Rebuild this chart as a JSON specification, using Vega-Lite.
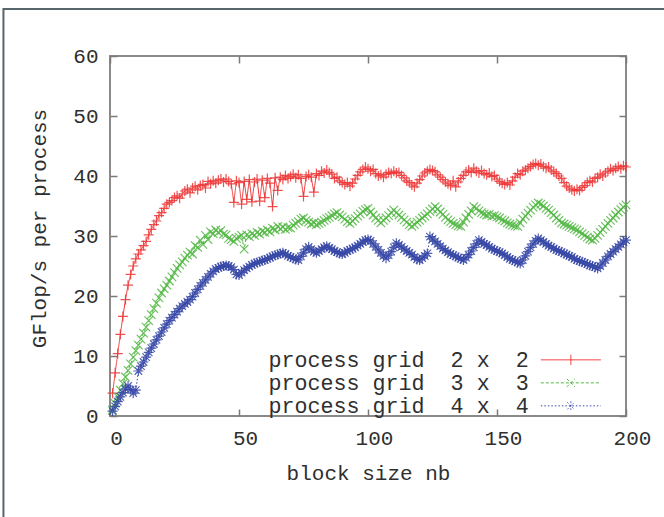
{
  "$schema": "https://vega.github.io/schema/vega-lite/v6.json",
  "width": 516,
  "height": 360,
  "autosize": {"type": "none"},
  "padding": {"left": 110, "top": 56, "right": 38, "bottom": 101},
  "background": "white",
  "datasets": {
    "perf": [
      {"nb":1,"p2":3.8,"p3":1.0,"p4":0.8},{"nb":2,"p2":7.2,"p3":2.1,"p4":1.6},{"nb":3,"p2":10.4,"p3":3.2,"p4":2.4},{"nb":4,"p2":13.6,"p3":4.3,"p4":3.2},{"nb":5,"p2":16.6,"p3":5.4,"p4":3.9},
      {"nb":6,"p2":19.4,"p3":6.5,"p4":4.5},{"nb":7,"p2":21.8,"p3":7.6,"p4":5.0},{"nb":8,"p2":23.6,"p3":8.7,"p4":4.4},{"nb":9,"p2":25.0,"p3":9.8,"p4":3.8},{"nb":10,"p2":26.2,"p3":10.9,"p4":4.3},
      {"nb":11,"p2":27.0,"p3":11.8,"p4":7.5},{"nb":12,"p2":27.7,"p3":12.8,"p4":8.3},{"nb":13,"p2":28.4,"p3":13.8,"p4":9.0},{"nb":14,"p2":29.1,"p3":14.8,"p4":9.8},{"nb":15,"p2":30.2,"p3":15.9,"p4":10.6},
      {"nb":16,"p2":31.1,"p3":16.9,"p4":11.3},{"nb":17,"p2":31.9,"p3":17.9,"p4":12.0},{"nb":18,"p2":32.5,"p3":18.8,"p4":12.7},{"nb":19,"p2":33.4,"p3":19.7,"p4":13.3},{"nb":20,"p2":33.9,"p3":20.5,"p4":14.0},
      {"nb":21,"p2":34.6,"p3":21.2,"p4":14.7},{"nb":22,"p2":35.3,"p3":21.8,"p4":15.3},{"nb":23,"p2":35.6,"p3":22.5,"p4":15.9},{"nb":24,"p2":35.9,"p3":23.2,"p4":16.4},{"nb":25,"p2":36.4,"p3":23.9,"p4":16.9},
      {"nb":26,"p2":36.7,"p3":24.6,"p4":17.4},{"nb":27,"p2":36.3,"p3":25.2,"p4":17.9},{"nb":28,"p2":37.0,"p3":25.7,"p4":18.3},{"nb":29,"p2":37.5,"p3":26.3,"p4":18.7},{"nb":30,"p2":37.8,"p3":26.8,"p4":19.0},
      {"nb":31,"p2":37.2,"p3":27.3,"p4":19.4},{"nb":32,"p2":38.0,"p3":27.0,"p4":19.9},{"nb":33,"p2":38.3,"p3":28.4,"p4":20.5},{"nb":34,"p2":37.7,"p3":28.1,"p4":21.1},{"nb":35,"p2":38.4,"p3":29.3,"p4":21.7},
      {"nb":36,"p2":38.6,"p3":28.6,"p4":22.2},{"nb":37,"p2":38.0,"p3":30.1,"p4":22.7},{"nb":38,"p2":39.1,"p3":29.4,"p4":23.2},{"nb":39,"p2":38.7,"p3":30.7,"p4":23.7},{"nb":40,"p2":39.2,"p3":30.4,"p4":24.1},
      {"nb":41,"p2":38.8,"p3":31.0,"p4":24.5},{"nb":42,"p2":39.3,"p3":30.6,"p4":24.7},{"nb":43,"p2":39.5,"p3":30.9,"p4":24.9},{"nb":44,"p2":39.0,"p3":30.3,"p4":25.0},{"nb":45,"p2":39.5,"p3":30.2,"p4":25.1},
      {"nb":46,"p2":39.1,"p3":29.6,"p4":25.0},{"nb":47,"p2":38.7,"p3":29.4,"p4":24.8},{"nb":48,"p2":35.6,"p3":29.1,"p4":24.4},{"nb":49,"p2":39.2,"p3":29.6,"p4":23.6},{"nb":50,"p2":38.9,"p3":29.8,"p4":23.5},
      {"nb":51,"p2":35.3,"p3":30.1,"p4":23.9},{"nb":52,"p2":39.1,"p3":27.8,"p4":24.3},{"nb":53,"p2":36.1,"p3":30.2,"p4":24.6},{"nb":54,"p2":39.4,"p3":29.9,"p4":24.9},{"nb":55,"p2":35.7,"p3":30.4,"p4":25.2},
      {"nb":56,"p2":39.0,"p3":30.1,"p4":25.4},{"nb":57,"p2":39.5,"p3":30.6,"p4":25.6},{"nb":58,"p2":35.8,"p3":30.3,"p4":25.7},{"nb":59,"p2":39.3,"p3":30.8,"p4":25.9},{"nb":60,"p2":36.4,"p3":30.6,"p4":26.0},
      {"nb":61,"p2":39.6,"p3":31.0,"p4":26.2},{"nb":62,"p2":38.8,"p3":30.7,"p4":26.4},{"nb":63,"p2":34.9,"p3":31.3,"p4":26.6},{"nb":64,"p2":39.7,"p3":31.0,"p4":26.8},{"nb":65,"p2":37.6,"p3":31.6,"p4":26.9},
      {"nb":66,"p2":39.8,"p3":31.2,"p4":27.1},{"nb":67,"p2":39.4,"p3":31.5,"p4":27.2},{"nb":68,"p2":40.1,"p3":31.1,"p4":27.0},{"nb":69,"p2":39.6,"p3":31.4,"p4":26.7},{"nb":70,"p2":39.9,"p3":31.3,"p4":26.5},
      {"nb":71,"p2":40.3,"p3":31.8,"p4":26.3},{"nb":72,"p2":39.7,"p3":32.1,"p4":26.1},{"nb":73,"p2":40.2,"p3":32.4,"p4":26.0},{"nb":74,"p2":39.6,"p3":32.8,"p4":26.6},{"nb":75,"p2":36.6,"p3":33.0,"p4":27.2},
      {"nb":76,"p2":39.9,"p3":32.6,"p4":27.8},{"nb":77,"p2":40.2,"p3":32.3,"p4":28.2},{"nb":78,"p2":39.8,"p3":32.0,"p4":27.8},{"nb":79,"p2":37.3,"p3":32.2,"p4":27.4},{"nb":80,"p2":40.4,"p3":31.9,"p4":27.2},
      {"nb":81,"p2":40.1,"p3":32.1,"p4":27.5},{"nb":82,"p2":40.8,"p3":32.3,"p4":27.8},{"nb":83,"p2":40.5,"p3":32.6,"p4":28.1},{"nb":84,"p2":41.0,"p3":32.9,"p4":28.3},{"nb":85,"p2":40.6,"p3":33.1,"p4":28.0},
      {"nb":86,"p2":40.3,"p3":33.4,"p4":27.8},{"nb":87,"p2":39.6,"p3":33.7,"p4":27.5},{"nb":88,"p2":39.8,"p3":33.9,"p4":27.3},{"nb":89,"p2":39.2,"p3":33.5,"p4":27.1},{"nb":90,"p2":38.9,"p3":33.2,"p4":27.0},
      {"nb":91,"p2":38.6,"p3":32.8,"p4":27.2},{"nb":92,"p2":38.9,"p3":32.4,"p4":27.5},{"nb":93,"p2":38.3,"p3":32.1,"p4":27.7},{"nb":94,"p2":38.8,"p3":32.5,"p4":27.9},{"nb":95,"p2":39.5,"p3":32.9,"p4":28.1},
      {"nb":96,"p2":40.1,"p3":33.3,"p4":28.4},{"nb":97,"p2":40.7,"p3":33.7,"p4":28.7},{"nb":98,"p2":41.1,"p3":34.1,"p4":29.0},{"nb":99,"p2":41.5,"p3":34.4,"p4":29.3},{"nb":100,"p2":41.2,"p3":34.6,"p4":29.4},
      {"nb":101,"p2":40.8,"p3":34.0,"p4":29.2},{"nb":102,"p2":41.1,"p3":33.5,"p4":28.7},{"nb":103,"p2":40.4,"p3":33.0,"p4":28.2},{"nb":104,"p2":40.0,"p3":32.6,"p4":27.7},{"nb":105,"p2":40.2,"p3":32.2,"p4":27.2},
      {"nb":106,"p2":39.8,"p3":32.6,"p4":26.7},{"nb":107,"p2":40.3,"p3":33.0,"p4":26.3},{"nb":108,"p2":40.6,"p3":33.4,"p4":26.8},{"nb":109,"p2":40.4,"p3":33.9,"p4":27.4},{"nb":110,"p2":40.8,"p3":34.3,"p4":28.1},
      {"nb":111,"p2":40.5,"p3":33.9,"p4":28.8},{"nb":112,"p2":40.6,"p3":33.5,"p4":28.5},{"nb":113,"p2":40.1,"p3":33.1,"p4":28.2},{"nb":114,"p2":39.7,"p3":32.7,"p4":27.8},{"nb":115,"p2":39.2,"p3":32.3,"p4":27.5},
      {"nb":116,"p2":38.9,"p3":31.9,"p4":27.2},{"nb":117,"p2":38.5,"p3":31.6,"p4":26.9},{"nb":118,"p2":38.2,"p3":31.9,"p4":26.5},{"nb":119,"p2":38.8,"p3":32.3,"p4":26.1},{"nb":120,"p2":39.4,"p3":32.6,"p4":26.0},
      {"nb":121,"p2":40.0,"p3":33.0,"p4":26.3},{"nb":122,"p2":40.5,"p3":33.3,"p4":26.7},{"nb":123,"p2":40.8,"p3":33.7,"p4":27.1},{"nb":124,"p2":41.1,"p3":34.1,"p4":29.9},{"nb":125,"p2":40.9,"p3":34.5,"p4":29.5},
      {"nb":126,"p2":40.7,"p3":34.9,"p4":29.1},{"nb":127,"p2":40.2,"p3":34.5,"p4":28.7},{"nb":128,"p2":39.8,"p3":34.0,"p4":28.3},{"nb":129,"p2":39.4,"p3":33.6,"p4":27.9},{"nb":130,"p2":39.0,"p3":33.1,"p4":27.6},
      {"nb":131,"p2":38.7,"p3":32.7,"p4":27.3},{"nb":132,"p2":38.4,"p3":32.4,"p4":27.0},{"nb":133,"p2":39.2,"p3":32.1,"p4":26.8},{"nb":134,"p2":38.2,"p3":31.9,"p4":26.6},{"nb":135,"p2":39.0,"p3":31.7,"p4":26.4},
      {"nb":136,"p2":39.6,"p3":31.6,"p4":26.2},{"nb":137,"p2":40.1,"p3":32.3,"p4":26.0},{"nb":138,"p2":40.7,"p3":33.0,"p4":26.4},{"nb":139,"p2":41.0,"p3":33.6,"p4":26.9},{"nb":140,"p2":40.6,"p3":34.2,"p4":27.5},
      {"nb":141,"p2":41.3,"p3":34.9,"p4":28.1},{"nb":142,"p2":40.8,"p3":34.6,"p4":28.7},{"nb":143,"p2":40.5,"p3":34.2,"p4":29.3},{"nb":144,"p2":40.9,"p3":33.9,"p4":29.0},{"nb":145,"p2":40.4,"p3":33.7,"p4":28.7},
      {"nb":146,"p2":40.2,"p3":33.5,"p4":28.5},{"nb":147,"p2":40.5,"p3":33.6,"p4":28.2},{"nb":148,"p2":39.9,"p3":33.3,"p4":27.9},{"nb":149,"p2":40.1,"p3":33.4,"p4":27.7},{"nb":150,"p2":39.5,"p3":33.2,"p4":27.5},
      {"nb":151,"p2":39.1,"p3":33.0,"p4":27.3},{"nb":152,"p2":38.8,"p3":32.7,"p4":27.1},{"nb":153,"p2":38.6,"p3":32.5,"p4":26.8},{"nb":154,"p2":38.9,"p3":32.2,"p4":26.5},{"nb":155,"p2":38.5,"p3":32.0,"p4":26.2},
      {"nb":156,"p2":39.2,"p3":31.8,"p4":26.0},{"nb":157,"p2":39.8,"p3":31.7,"p4":25.8},{"nb":158,"p2":40.4,"p3":31.6,"p4":25.6},{"nb":159,"p2":40.2,"p3":32.2,"p4":25.4},{"nb":160,"p2":40.8,"p3":32.8,"p4":26.0},
      {"nb":161,"p2":41.0,"p3":33.3,"p4":26.7},{"nb":162,"p2":41.3,"p3":33.8,"p4":27.4},{"nb":163,"p2":41.6,"p3":34.3,"p4":28.1},{"nb":164,"p2":41.9,"p3":34.8,"p4":28.7},{"nb":165,"p2":42.1,"p3":35.2,"p4":29.2},
      {"nb":166,"p2":41.8,"p3":35.5,"p4":29.6},{"nb":167,"p2":42.0,"p3":35.3,"p4":29.3},{"nb":168,"p2":41.6,"p3":35.0,"p4":29.0},{"nb":169,"p2":41.3,"p3":34.6,"p4":28.7},{"nb":170,"p2":41.5,"p3":34.3,"p4":28.4},
      {"nb":171,"p2":41.0,"p3":33.9,"p4":28.2},{"nb":172,"p2":40.7,"p3":33.5,"p4":27.9},{"nb":173,"p2":40.4,"p3":33.0,"p4":27.7},{"nb":174,"p2":40.0,"p3":32.6,"p4":27.5},{"nb":175,"p2":39.6,"p3":32.2,"p4":27.3},
      {"nb":176,"p2":38.9,"p3":32.0,"p4":27.1},{"nb":177,"p2":38.3,"p3":31.8,"p4":26.9},{"nb":178,"p2":38.0,"p3":31.6,"p4":26.7},{"nb":179,"p2":37.7,"p3":31.4,"p4":26.5},{"nb":180,"p2":37.5,"p3":31.2,"p4":26.2},
      {"nb":181,"p2":37.8,"p3":31.0,"p4":26.0},{"nb":182,"p2":37.6,"p3":30.7,"p4":25.8},{"nb":183,"p2":38.1,"p3":30.4,"p4":25.7},{"nb":184,"p2":38.4,"p3":30.1,"p4":25.5},{"nb":185,"p2":38.9,"p3":29.8,"p4":25.3},
      {"nb":186,"p2":39.2,"p3":29.5,"p4":25.1},{"nb":187,"p2":39.0,"p3":29.3,"p4":25.0},{"nb":188,"p2":39.6,"p3":29.6,"p4":24.8},{"nb":189,"p2":39.8,"p3":30.1,"p4":24.6},{"nb":190,"p2":40.3,"p3":30.6,"p4":25.0},
      {"nb":191,"p2":40.0,"p3":31.1,"p4":25.5},{"nb":192,"p2":40.5,"p3":31.6,"p4":26.0},{"nb":193,"p2":40.8,"p3":32.1,"p4":26.6},{"nb":194,"p2":41.2,"p3":32.6,"p4":27.0},{"nb":195,"p2":40.9,"p3":33.0,"p4":27.4},
      {"nb":196,"p2":41.3,"p3":33.5,"p4":27.8},{"nb":197,"p2":41.6,"p3":34.0,"p4":28.2},{"nb":198,"p2":41.2,"p3":34.4,"p4":28.6},{"nb":199,"p2":41.7,"p3":34.8,"p4":29.0},{"nb":200,"p2":41.5,"p3":35.2,"p4":29.3}
    ]
  },
  "layer": [
    {
      "data": {"values": [{"frame": 1}]},
      "mark": {"type": "rect", "filled": false, "stroke": "#56666b", "strokeWidth": 2},
      "encoding": {
        "x": {"datum": -41.3, "type": "quantitative", "scale": {"domain": [0, 200], "nice": false}, "axis": null},
        "x2": {"datum": 225},
        "y": {"datum": 67.85, "type": "quantitative", "scale": {"domain": [0, 60], "nice": false}, "axis": null},
        "y2": {"datum": -20}
      }
    },
    {
      "data": {"name": "perf"},
      "transform": [{"fold": ["p2", "p3", "p4"], "as": ["grid", "gflops"]}],
      "mark": {"type": "line", "strokeWidth": 1},
      "encoding": {
        "x": {
          "field": "nb", "type": "quantitative",
          "scale": {"domain": [0, 200], "nice": false},
          "axis": {"orient": "bottom", "values": [0, 50, 100, 150, 200], "labelPadding": 18, "labelOffset": 6, "labelFlush": false, "labelOverlap": false, "title": "block size nb", "titleY": 57, "titleBaseline": "middle"}
        },
        "y": {
          "field": "gflops", "type": "quantitative",
          "scale": {"domain": [0, 60], "nice": false},
          "axis": {"orient": "left", "values": [0, 10, 20, 30, 40, 50, 60], "labelPadding": 19, "labelFlush": false, "labelOverlap": false, "title": "GFlop/s per process", "titleX": -71, "titleY": 172, "titleAngle": 270, "titleBaseline": "middle", "titleAlign": "center"}
        },
        "color": {
          "field": "grid", "type": "nominal",
          "scale": {"domain": ["p2", "p3", "p4"], "range": ["#ee3434", "#52b844", "#3546a6"]},
          "legend": {
            "orient": "none", "legendX": 450, "legendY": 293, "title": null, "padding": 0,
            "labelFont": "Liberation Mono", "labelFontSize": 21.7, "labelColor": "#2f2f2f",
            "labelAlign": "right", "labelBaseline": "middle", "labelOffset": -53, "labelLimit": 400,
            "labelExpr": "datum.label == 'p2' ? 'process grid\u00a0\u00a02 x\u00a0\u00a02' : datum.label == 'p3' ? 'process grid\u00a0\u00a03 x\u00a0\u00a03' : 'process grid\u00a0\u00a04 x\u00a0\u00a04'",
            "symbolSize": 400, "symbolStrokeWidth": 1, "symbolFillColor": "transparent", "rowPadding": 0,
            "symbolType": "M-3,0H3",
            "encode": {
              "symbols": {
                "update": {
                  "shape": {"signal": "datum.value == 'p2' ? 'M-3,0H3M0,-0.5V0.5' : datum.value == 'p3' ? 'M-3,0H3M-0.4,-0.4L0.4,0.4M-0.4,0.4L0.4,-0.4' : 'M-3,0H3M-0.35,-0.35L0.35,0.35M-0.35,0.35L0.35,-0.35M0,-0.45V0.45'"},
                  "strokeDash": {"signal": "datum.value == 'p3' ? [3, 2] : datum.value == 'p4' ? [1.5, 2] : [1, 0]"}
                }
              }
            }
          }
        },
        "strokeDash": {
          "field": "grid", "type": "nominal",
          "scale": {"domain": ["p2", "p3", "p4"], "range": [[1, 0], [3, 2], [1.5, 2]]},
          "legend": null
        }
      }
    },
    {
      "data": {"name": "perf"},
      "transform": [{"fold": ["p2", "p3", "p4"], "as": ["grid2", "gflops"]}],
      "mark": {"type": "point", "filled": false, "strokeWidth": 1.2, "opacity": 0.85},
      "encoding": {
        "x": {
          "field": "nb", "type": "quantitative",
          "scale": {"domain": [0, 200], "nice": false},
          "axis": {"orient": "top", "values": [0, 50, 100, 150, 200], "labels": false, "title": null}
        },
        "y": {
          "field": "gflops", "type": "quantitative",
          "scale": {"domain": [0, 60], "nice": false},
          "axis": {"orient": "right", "values": [0, 10, 20, 30, 40, 50, 60], "labels": false, "title": null}
        },
        "color": {"field": "grid2", "type": "nominal", "scale": {"domain": ["p2", "p3", "p4"], "range": ["#ee3434", "#52b844", "#3546a6"]}, "legend": null},
        "shape": {
          "field": "grid2", "type": "nominal",
          "scale": {"domain": ["p2", "p3", "p4"], "range": ["M-1,0H1M0,-1V1", "M-0.85,-0.85L0.85,0.85M-0.85,0.85L0.85,-0.85", "M-1,0H1M0,-1V1M-0.75,-0.75L0.75,0.75M-0.75,0.75L0.75,-0.75"]},
          "legend": null
        },
        "size": {"value": 100}
      }
    }
  ],
  "resolve": {"axis": {"x": "independent", "y": "independent"}, "legend": {"color": "independent", "shape": "independent", "strokeDash": "independent"}},
  "config": {
    "font": "Liberation Mono",
    "view": {"stroke": "#8a8a8a", "strokeWidth": 2},
    "axis": {
      "domain": false, "grid": false,
      "tickColor": "#7a7a7a", "tickWidth": 1.5, "tickSize": -7,
      "labelFont": "Liberation Mono", "labelFontSize": 21, "labelColor": "#2f2f2f",
      "titleFont": "Liberation Mono", "titleFontSize": 21, "titleColor": "#2f2f2f", "titleFontWeight": "normal"
    }
  }
}
